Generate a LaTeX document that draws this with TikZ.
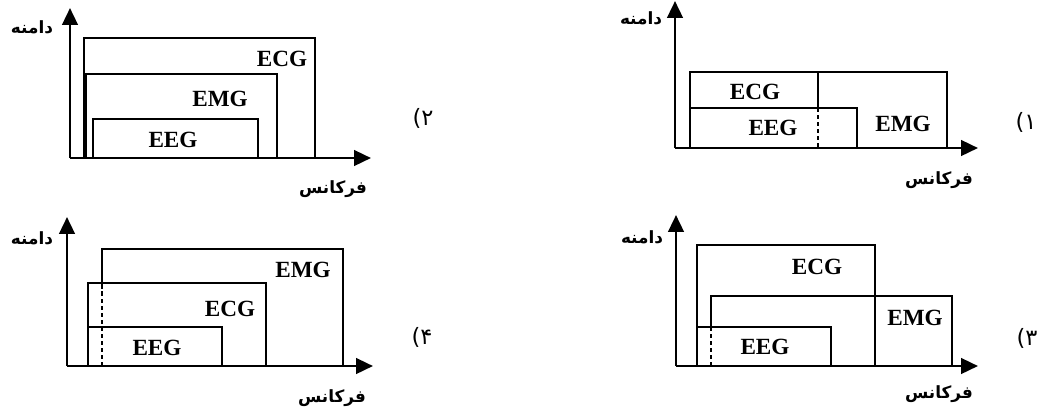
\documentclass[tikz,border=0pt]{standalone}
\usepackage{fontspec}
\setmainfont{Liberation Serif}
\newfontfamily\farsifont[Script=Arabic]{DejaVu Sans}
\TeXXeTstate=1
\usetikzlibrary{arrows.meta,positioning}
\tikzset{
  >=Triangle,
  axis/.style={-{Triangle[length=12pt,width=11pt]}, line width=1.9pt},
  band/.style={line width=1.9pt},
  split/.style={line width=1.5pt, dash pattern=on 3pt off 2pt},
  sig/.style={font=\fontsize{16.5}{16.5}\selectfont\bfseries, inner sep=0pt},
  fa/.style={font=\farsifont\bfseries\fontsize{12}{12}\selectfont, inner sep=0pt},
  num/.style={font=\farsifont\fontsize{16}{16}\selectfont, inner sep=0pt}
}
\begin{document}
\begin{tikzpicture}[x=0.025cm, y=-0.025cm]
\useasboundingbox (0,0) rectangle (1043,410);

% --- Panel 1 (top right) ---
\coordinate (O1) at (675,148);
\coordinate (Y1) at (675,1);
\coordinate (X1) at (978,148);
\draw[band] (690,148) rectangle (947,72);
\draw[band] (690,148) rectangle (857,108);
\coordinate (S1a) at (818,72);
\coordinate (S1b) at (818,108);
\coordinate (S1c) at (818,148);
\draw[band] (S1a) -- (S1b);
\draw[split] (S1b) -- (S1c);
\draw[axis] (O1) -- (Y1);
\draw[axis] (O1) -- (X1);
\node[sig] (ecg1) at (755,92) {ECG};
\node[sig] (eeg1) at (773,128) {EEG};
\node[sig] (emg1) at (903,124) {EMG};
\node[fa] (amp1) at (641,18) {\beginR دامنه\endR};
\node[fa] (frq1) at (939,180) {\beginR فرکانس\endR};
\node[num] (n1) at (1026,122) {\beginR ۱)\endR};

% --- Panel 2 (top left) ---
\coordinate (O2) at (70,158);
\coordinate (Y2) at (70,8);
\coordinate (X2) at (371,158);
\draw[band] (84,158) rectangle (315,38);
\draw[band] (86,158) rectangle (277,74);
\draw[band] (93,158) rectangle (258,119);
\draw[axis] (O2) -- (Y2);
\draw[axis] (O2) -- (X2);
\node[sig] (ecg2) at (282,59) {ECG};
\node[sig] (emg2) at (220,99) {EMG};
\node[sig] (eeg2) at (173,140) {EEG};
\node[fa] (amp2) at (32,27) {\beginR دامنه\endR};
\node[fa] (frq2) at (333,189) {\beginR فرکانس\endR};
\node[num] (n2) at (423,118) {\beginR ۲)\endR};

% --- Panel 3 (bottom right) ---
\coordinate (O3) at (676,366);
\coordinate (Y3) at (676,215);
\coordinate (X3) at (978,366);
\draw[band] (697,366) rectangle (875,245);
\draw[band] (697,366) rectangle (831,327);
\coordinate (S3a) at (711,366);
\coordinate (S3b) at (711,327);
\coordinate (S3c) at (711,296);
\coordinate (S3d) at (952,366);
\draw[band] (S3b) |- (S3d |- S3c) -- (S3d);
\draw[split] (S3a) -- (S3b);
\draw[axis] (O3) -- (Y3);
\draw[axis] (O3) -- (X3);
\node[sig] (ecg3) at (817,267) {ECG};
\node[sig] (emg3) at (915,318) {EMG};
\node[sig] (eeg3) at (765,347) {EEG};
\node[fa] (amp3) at (642,237) {\beginR دامنه\endR};
\node[fa] (frq3) at (939,394) {\beginR فرکانس\endR};
\node[num] (n3) at (1027,338) {\beginR ۳)\endR};

% --- Panel 4 (bottom left) ---
\coordinate (O4) at (67,366);
\coordinate (Y4) at (67,217);
\coordinate (X4) at (373,366);
\draw[band] (88,366) rectangle (266,283);
\draw[band] (88,366) rectangle (222,327);
\coordinate (S4a) at (102,366);
\coordinate (S4b) at (102,283);
\coordinate (S4c) at (102,249);
\coordinate (S4d) at (343,366);
\draw[band] (S4b) |- (S4d |- S4c) -- (S4d);
\draw[split] (S4a) -- (S4b);
\draw[axis] (O4) -- (Y4);
\draw[axis] (O4) -- (X4);
\node[sig] (emg4) at (303,270) {EMG};
\node[sig] (ecg4) at (230,309) {ECG};
\node[sig] (eeg4) at (157,348) {EEG};
\node[fa] (amp4) at (32,238) {\beginR دامنه\endR};
\node[fa] (frq4) at (332,398) {\beginR فرکانس\endR};
\node[num] (n4) at (422,337) {\beginR ۴)\endR};

\end{tikzpicture}
\end{document}
